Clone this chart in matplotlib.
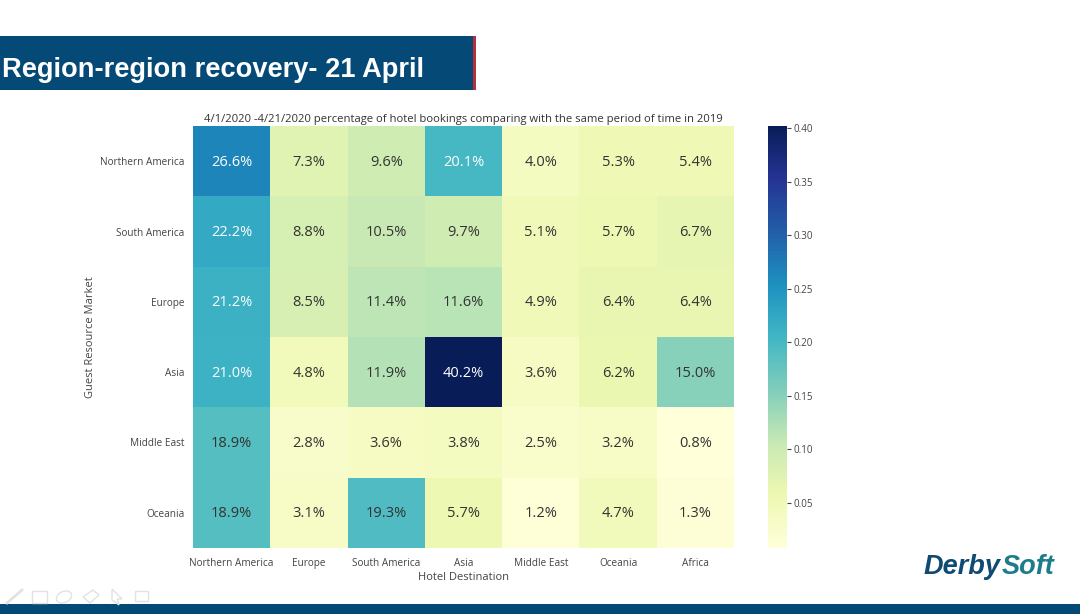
import numpy as np
import matplotlib.pyplot as plt
from matplotlib.patches import Ellipse, Polygon, Rectangle

WIDTH = 1080
HEIGHT = 614

destinations = ['Northern America', 'Europe', 'South America', 'Asia', 'Middle East', 'Oceania', 'Africa']
markets = ['Northern America', 'South America', 'Europe', 'Asia', 'Middle East', 'Oceania']

northern_america = [0.266, 0.073, 0.096, 0.201, 0.040, 0.053, 0.054]
south_america = [0.222, 0.088, 0.105, 0.097, 0.051, 0.057, 0.067]
europe = [0.212, 0.085, 0.114, 0.116, 0.049, 0.064, 0.064]
asia = [0.210, 0.048, 0.119, 0.402, 0.036, 0.062, 0.150]
middle_east = [0.189, 0.028, 0.036, 0.038, 0.025, 0.032, 0.008]
oceania = [0.189, 0.031, 0.193, 0.057, 0.012, 0.047, 0.013]

colorbar_ticks = [0.05, 0.10, 0.15, 0.20, 0.25, 0.30, 0.35, 0.40]

plt.rcParams['font.family'] = ['Open Sans', 'DejaVu Sans']
plt.rcParams['text.color'] = '#444444'


def pixel_axes(left, top, right, bottom):
    return plt.axes([left/WIDTH, 1 - bottom/HEIGHT, (right - left)/WIDTH, (bottom - top)/HEIGHT])


fig = plt.figure(figsize=(WIDTH/100, HEIGHT/100), dpi=100)

# The slide behind the chart
slide = plt.axes([0, 0, 1, 1])
slide.set_xlim(0, WIDTH)
slide.set_ylim(HEIGHT, 0)
slide.axis('off')
plt.fill_between([0, 473], 36, 90, color='#054a77', lw=0)
plt.fill_between([473, 476], 36, 90, color='#b5303f', lw=0)
plt.fill_between([0, WIDTH], 604, HEIGHT, color='#054a77', lw=0)
plt.text(2, 70, 'Region-region recovery- 21 April', color='white', fontsize=19.6, fontweight='bold',
         family='Liberation Sans', va='center')

# The logo, in two colours
plt.text(924, 567, 'Derby', color='#0f4a73', fontsize=19.5, fontweight='bold', style='italic',
         family='Liberation Sans', va='center')
plt.text(1002, 567, 'Soft', color='#1d7c8c', fontsize=19.5, fontweight='bold', style='italic',
         family='Liberation Sans', va='center')

# Faint presenter toolbar
faint = dict(fill=False, edgecolor='#e2e2e2', lw=1)
plt.plot([7, 22], [603, 590], color='#e2e2e2', lw=2)
slide.add_patch(Rectangle((32, 591), 15, 12, **faint))
slide.add_patch(Ellipse((64, 597), 16, 11, angle=-25, **faint))
slide.add_patch(Polygon([[83, 597], [93, 590], [99, 595], [90, 603]], **faint))
slide.add_patch(Polygon([[112, 589], [122, 599], [117, 599], [119, 605], [112, 600]], **faint))
slide.add_patch(Rectangle((135, 591), 13, 10, **faint))

# The heatmap
values = np.array([northern_america, south_america, europe, asia, middle_east, oceania])
vmin = values.min()
vmax = values.max()

heat = pixel_axes(193, 126, 734, 548)
mesh = plt.pcolormesh(values, cmap='YlGnBu', vmin=vmin, vmax=vmax)
plt.gca().invert_yaxis()
plt.xticks(np.arange(len(destinations)) + 0.5, destinations, fontsize=7.2)
plt.yticks(np.arange(len(markets)) + 0.5, markets, fontsize=7.2)
plt.tick_params(length=0, labelcolor='#444444')
plt.tick_params(axis='x', pad=7)
plt.tick_params(axis='y', pad=6)
for side in heat.spines.values():
    side.set_visible(False)
plt.xlabel('Hotel Destination', fontsize=8, color='#444444', labelpad=2)
plt.ylabel('Guest Resource Market', fontsize=8, color='#444444', labelpad=3)
plt.title('4/1/2020 -4/21/2020 percentage of hotel bookings comparing with the same period of time in 2019',
          fontsize=8.15, color='#333333', pad=3)

for row in range(len(markets)):
    for col in range(len(destinations)):
        value = values[row, col]
        colour = 'white' if value > 0.2 else '#333333'
        plt.text(col + 0.5, row + 0.515, '%.1f%%' % (value*100), color=colour, fontsize=10.5,
                 ha='center', va='center')

# The colour bar
bar = pixel_axes(768, 126, 787, 548)
cbar = plt.colorbar(mesh, cax=bar)
cbar.set_ticks(colorbar_ticks)
cbar.ax.set_yticklabels(['%.2f' % tick for tick in colorbar_ticks])
cbar.ax.tick_params(labelsize=7, length=3, width=0.8, pad=2, color='#444444', labelcolor='#444444')
cbar.outline.set_visible(False)

plt.savefig('out.png', dpi=100)
